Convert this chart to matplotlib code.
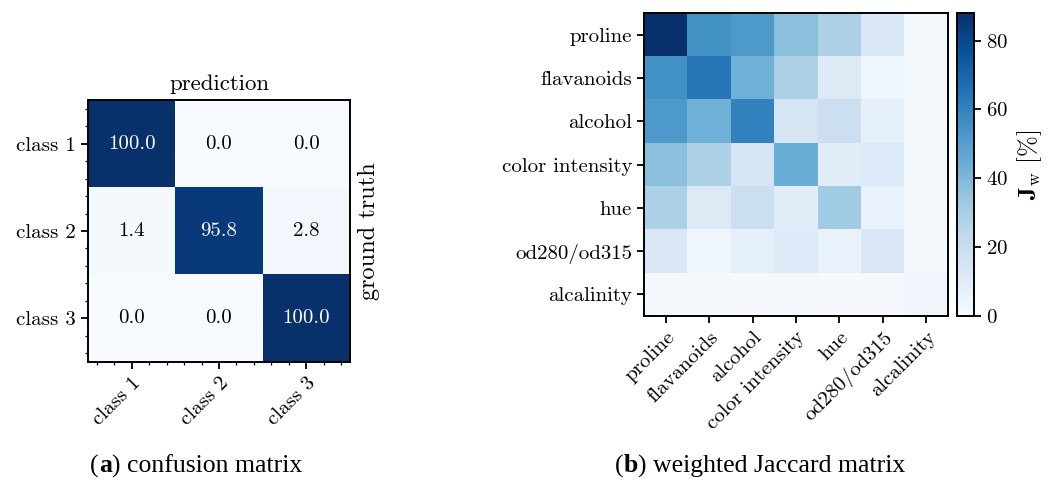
import numpy as np
import matplotlib
matplotlib.use("Agg")
import matplotlib.pyplot as plt
import matplotlib.offsetbox as ob
from matplotlib.ticker import MultipleLocator

plt.rcParams['font.family'] = ['cmr10', 'DejaVu Serif']
plt.rcParams['mathtext.fontset'] = 'cm'
plt.rcParams['axes.formatter.use_mathtext'] = True
plt.rcParams['axes.unicode_minus'] = False

# ---- data ----
classes = ["class 1", "class 2", "class 3"]
conf_row1 = [100.0, 0.0, 0.0]
conf_row2 = [1.4, 95.8, 2.8]
conf_row3 = [0.0, 0.0, 100.0]

features = ["proline", "flavanoids", "alcohol", "color intensity", "hue",
            "od280/od315", "alcalinity"]
jac_proline = [88, 55, 52, 37, 29, 13, 2]
jac_flavanoids = [55, 64, 43, 29, 11, 4, 2]
jac_alcohol = [52, 43, 60, 15, 19, 8, 1]
jac_color = [37, 29, 15, 44, 10, 12, 2]
jac_hue = [29, 11, 19, 10, 32, 6, 1]
jac_od = [13, 4, 8, 12, 6, 13, 1]
jac_alcalinity = [2, 2, 1, 2, 1, 1, 3]

conf = np.array([conf_row1, conf_row2, conf_row3])
jac = np.array([jac_proline, jac_flavanoids, jac_alcohol, jac_color,
                jac_hue, jac_od, jac_alcalinity])

W, H = 1051, 484
fig = plt.figure(figsize=(W / 100, H / 100), dpi=100)

def rect(x0, y0, x1, y1):
    return [x0 / W, 1 - y1 / H, (x1 - x0) / W, (y1 - y0) / H]

fs = 15
lw = 1.4

# ---- left: confusion matrix ----
ax1 = fig.add_axes(rect(88, 100, 350, 362))
ax1.imshow(conf, cmap="Blues", vmin=0, vmax=100, aspect="auto")
for i in range(conf.shape[0]):
    for j in range(conf.shape[1]):
        v = conf[i, j]
        ax1.text(j, i, f"{v:.1f}", ha="center", va="center", fontsize=fs,
                 color="white" if v > 50 else "black")
ax1.set_xticks(range(len(classes)))
ax1.set_yticks(range(len(classes)))
ax1.set_xticklabels(classes, rotation=45, ha="right", rotation_mode="anchor",
                    fontsize=fs)
ax1.set_yticklabels(classes, fontsize=fs)
ax1.xaxis.set_minor_locator(MultipleLocator(0.2))
ax1.yaxis.set_minor_locator(MultipleLocator(0.2))
ax1.tick_params(which="major", length=5, width=1.3)
ax1.tick_params(which="minor", length=2.5, width=0.9)
ax1.set_title("prediction", fontsize=16.5, pad=7)
ax1.yaxis.set_label_position("right")
ax1.set_ylabel("ground truth", fontsize=17.5, labelpad=6)
for s in ax1.spines.values():
    s.set_linewidth(lw)

# ---- right: weighted Jaccard matrix ----
ax2 = fig.add_axes(rect(644, 13, 948, 316))
im = ax2.imshow(jac, cmap="Blues", vmin=0, vmax=88, aspect="auto")
ax2.set_xticks(range(len(features)))
ax2.set_yticks(range(len(features)))
ax2.set_xticklabels(features, rotation=45, ha="right", rotation_mode="anchor",
                    fontsize=fs)
ax2.set_yticklabels(features, fontsize=fs)
ax2.tick_params(which="major", length=5, width=1.3)
for s in ax2.spines.values():
    s.set_linewidth(lw)

cax = fig.add_axes(rect(957, 13, 974, 316))
cb = fig.colorbar(im, cax=cax)
cb.set_ticks([0, 20, 40, 60, 80])
cb.ax.tick_params(labelsize=fs, length=5, width=1.3)
cb.outline.set_linewidth(lw)
cb.set_label(r"$\mathbf{J}_{\mathrm{w}}$ [%]", fontsize=18, labelpad=5)

# ---- captions ----
cap_font = ['Liberation Serif', 'DejaVu Serif']
cap_fs = 18.5

def caption(xc, letter, rest):
    parts = [ob.TextArea("(", textprops=dict(fontsize=cap_fs, family=cap_font)),
             ob.TextArea(letter, textprops=dict(fontsize=cap_fs, family=cap_font,
                                                fontweight="bold")),
             ob.TextArea(") " + rest, textprops=dict(fontsize=cap_fs, family=cap_font))]
    box = ob.HPacker(children=parts, align="baseline", pad=0, sep=0)
    ab = ob.AnchoredOffsetbox(loc="center", child=box, frameon=False,
                              bbox_to_anchor=(xc / W, 1 - 466 / H),
                              bbox_transform=fig.transFigure, borderpad=0, pad=0)
    fig.add_artist(ab)

caption(196, "a", "confusion matrix")
caption(760, "b", "weighted Jaccard matrix")

fig.savefig("out.png", dpi=100)
